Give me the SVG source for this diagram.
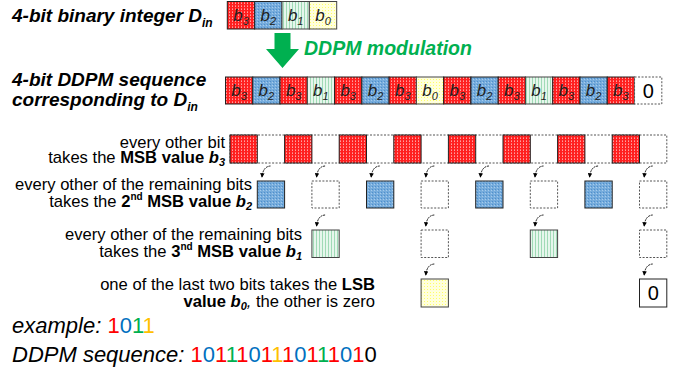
<svg xmlns="http://www.w3.org/2000/svg" width="683" height="375" viewBox="0 0 683 375">
<defs>
<pattern id="pR" width="3" height="3" patternUnits="userSpaceOnUse"><rect width="3" height="3" fill="#ff2020"/><rect x="1" y="0" width="1" height="1" fill="#ffa0a0"/><rect x="1" y="2" width="1" height="1" fill="#ff7070"/></pattern>
<pattern id="pB" width="3" height="3" patternUnits="userSpaceOnUse"><rect width="3" height="3" fill="#76acdc"/><rect x="0" y="0" width="1" height="1" fill="#4f8fcc"/><rect x="2" y="1" width="1" height="1" fill="#a6cbec"/></pattern>
<pattern id="pG" width="3" height="3" patternUnits="userSpaceOnUse"><rect width="3" height="3" fill="#e6f6ec"/><rect x="1" y="0" width="1" height="3" fill="#a0dab6"/></pattern>
<pattern id="pY" width="3" height="3" patternUnits="userSpaceOnUse"><rect width="3" height="3" fill="#ffffdc"/><rect x="1" y="1" width="1" height="1" fill="#ffff66"/></pattern>
<marker id="ah" viewBox="0 0 6 6" refX="5" refY="3" markerWidth="5" markerHeight="5" orient="auto"><path d="M0,0 L6,3 L0,6 z" fill="#000"/></marker>
<style>
.r{fill:url(#pR);stroke:#222;stroke-width:1}
.b{fill:url(#pB);stroke:#222;stroke-width:1}
.g{fill:url(#pG);stroke:#444;stroke-width:1}
.y{fill:url(#pY);stroke:#444;stroke-width:1}
.d{fill:#fff;stroke:#555;stroke-width:1;stroke-dasharray:2 1.5}
.z{fill:#fff;stroke:#222;stroke-width:1}
.ct{font-family:"Liberation Sans",Arial,sans-serif;font-style:italic;font-size:17px;fill:#222;text-anchor:middle}
.zt{font-family:"Liberation Sans",Arial,sans-serif;font-size:20px;fill:#000;text-anchor:middle}
.hd{font-family:"Liberation Sans",Arial,sans-serif;font-style:italic;font-weight:bold;font-size:19px;fill:#000}
.lb{font-family:"Liberation Sans",Arial,sans-serif;font-size:16.6px;fill:#000;text-anchor:end}
.bt{font-family:"Liberation Sans",Arial,sans-serif;font-style:italic;font-size:22px;fill:#000}
.up{font-style:normal}
.arr{fill:none;stroke:#000;stroke-width:0.9;stroke-dasharray:2 0.8;marker-end:url(#ah)}
</style>
</defs>
<rect width="683" height="375" fill="#fff"/>

<g id="title-din">
<text class="hd" x="12" y="22">4-bit binary integer D<tspan font-size="12" dy="5">in</tspan></text>
</g>
<g id="din-bits">
<rect class="r" x="227.3" y="1.5" width="27.35" height="27.5"/>
<rect class="b" x="254.65" y="1.5" width="27.35" height="27.5"/>
<rect class="g" x="282" y="1.5" width="27.35" height="27.5"/>
<rect class="y" x="309.35" y="1.5" width="27.35" height="27.5"/>
<text class="ct" x="241" y="21">b<tspan font-size="11" dy="4">3</tspan></text>
<text class="ct" x="268.3" y="21">b<tspan font-size="11" dy="4">2</tspan></text>
<text class="ct" x="295.7" y="21">b<tspan font-size="11" dy="4">1</tspan></text>
<text class="ct" x="323" y="21">b<tspan font-size="11" dy="4">0</tspan></text>
</g>

<g id="ddpm-modulation">
<polygon points="274.5,33 290.5,33 290.5,49 299,49 282.5,68 266,49 274.5,49" fill="#00b050"/>
<text x="304" y="55" font-family="Liberation Sans, Arial, sans-serif" font-style="italic" font-weight="bold" font-size="19.5" fill="#00b050">DDPM modulation</text>
</g>

<g id="title-seq">
<text class="hd" x="12" y="86">4-bit DDPM sequence</text>
<text class="hd" x="12" y="106">corresponding to D<tspan font-size="12" dy="5">in</tspan></text>
</g>

<g id="ddpm-sequence">
<rect class="r" x="225.5" y="77" width="27.27" height="27"/>
<rect class="b" x="252.77" y="77" width="27.27" height="27"/>
<rect class="r" x="280.04" y="77" width="27.27" height="27"/>
<rect class="g" x="307.31" y="77" width="27.27" height="27"/>
<rect class="r" x="334.58" y="77" width="27.27" height="27"/>
<rect class="b" x="361.85" y="77" width="27.27" height="27"/>
<rect class="r" x="389.12" y="77" width="27.27" height="27"/>
<rect class="y" x="416.39" y="77" width="27.27" height="27"/>
<rect class="r" x="443.66" y="77" width="27.27" height="27"/>
<rect class="b" x="470.93" y="77" width="27.27" height="27"/>
<rect class="r" x="498.2" y="77" width="27.27" height="27"/>
<rect class="g" x="525.47" y="77" width="27.27" height="27"/>
<rect class="r" x="552.74" y="77" width="27.27" height="27"/>
<rect class="b" x="580.01" y="77" width="27.27" height="27"/>
<rect class="r" x="607.28" y="77" width="27.27" height="27"/>
<rect class="d" x="634.55" y="77" width="27.27" height="27"/>
<text class="ct" x="239.1" y="96">b<tspan font-size="11" dy="4">3</tspan></text>
<text class="ct" x="266.4" y="96">b<tspan font-size="11" dy="4">2</tspan></text>
<text class="ct" x="293.7" y="96">b<tspan font-size="11" dy="4">3</tspan></text>
<text class="ct" x="320.9" y="96">b<tspan font-size="11" dy="4">1</tspan></text>
<text class="ct" x="348.2" y="96">b<tspan font-size="11" dy="4">3</tspan></text>
<text class="ct" x="375.5" y="96">b<tspan font-size="11" dy="4">2</tspan></text>
<text class="ct" x="402.8" y="96">b<tspan font-size="11" dy="4">3</tspan></text>
<text class="ct" x="430" y="96">b<tspan font-size="11" dy="4">0</tspan></text>
<text class="ct" x="457.3" y="96">b<tspan font-size="11" dy="4">3</tspan></text>
<text class="ct" x="484.6" y="96">b<tspan font-size="11" dy="4">2</tspan></text>
<text class="ct" x="511.8" y="96">b<tspan font-size="11" dy="4">3</tspan></text>
<text class="ct" x="539.1" y="96">b<tspan font-size="11" dy="4">1</tspan></text>
<text class="ct" x="566.4" y="96">b<tspan font-size="11" dy="4">3</tspan></text>
<text class="ct" x="593.6" y="96">b<tspan font-size="11" dy="4">2</tspan></text>
<text class="ct" x="620.9" y="96">b<tspan font-size="11" dy="4">3</tspan></text>
<text class="zt" x="648.2" y="98">0</text>
</g>

<g id="row-msb">
<text class="lb" x="225" y="148">every other bit</text>
<text class="lb" x="225" y="163">takes the <tspan font-weight="bold">MSB value </tspan><tspan font-weight="bold" font-style="italic">b</tspan><tspan font-weight="bold" font-style="italic" font-size="11" dy="3">3</tspan></text>
<rect class="d" x="230" y="135" width="436.8" height="28"/>
<rect class="r" x="230" y="135" width="27.3" height="28"/>
<rect class="r" x="284.6" y="135" width="27.3" height="28"/>
<rect class="r" x="339.2" y="135" width="27.3" height="28"/>
<rect class="r" x="393.8" y="135" width="27.3" height="28"/>
<rect class="r" x="448.4" y="135" width="27.3" height="28"/>
<rect class="r" x="503" y="135" width="27.3" height="28"/>
<rect class="r" x="557.6" y="135" width="27.3" height="28"/>
<rect class="r" x="612.2" y="135" width="27.3" height="28"/>
</g>

<g id="row-2nd-msb">
<text class="lb" x="252" y="190">every other of the remaining bits</text>
<text class="lb" x="252" y="207">takes the <tspan font-weight="bold">2</tspan><tspan font-weight="bold" font-size="10" dy="-7">nd</tspan><tspan font-weight="bold" dy="7"> MSB value </tspan><tspan font-weight="bold" font-style="italic">b</tspan><tspan font-weight="bold" font-style="italic" font-size="11" dy="3">2</tspan></text>
<rect class="b" x="257.3" y="181" width="27.3" height="27"/>
<rect class="d" x="311.9" y="181" width="27.3" height="27"/>
<rect class="b" x="366.5" y="181" width="27.3" height="27"/>
<rect class="d" x="421.1" y="181" width="27.3" height="27"/>
<rect class="b" x="475.7" y="181" width="27.3" height="27"/>
<rect class="d" x="530.3" y="181" width="27.3" height="27"/>
<rect class="b" x="584.9" y="181" width="27.3" height="27"/>
<rect class="d" x="639.5" y="181" width="27.3" height="27"/>
</g>

<g id="row-3rd-msb">
<text class="lb" x="302" y="240">every other of the remaining bits</text>
<text class="lb" x="302" y="257">takes the <tspan font-weight="bold">3</tspan><tspan font-weight="bold" font-size="10" dy="-7">nd</tspan><tspan font-weight="bold" dy="7"> MSB value </tspan><tspan font-weight="bold" font-style="italic">b</tspan><tspan font-weight="bold" font-style="italic" font-size="11" dy="3">1</tspan></text>
<rect class="g" x="311.9" y="230" width="27.3" height="27.5"/>
<rect class="d" x="421.1" y="230" width="27.3" height="27.5"/>
<rect class="g" x="530.3" y="230" width="27.3" height="27.5"/>
<rect class="d" x="639.5" y="230" width="27.3" height="27.5"/>
</g>

<g id="row-lsb">
<text class="lb" x="375" y="290">one of the last two bits takes the <tspan font-weight="bold">LSB</tspan></text>
<text class="lb" x="375" y="307"><tspan font-weight="bold">value </tspan><tspan font-weight="bold" font-style="italic">b</tspan><tspan font-weight="bold" font-style="italic" font-size="11" dy="3">0</tspan><tspan font-style="italic" dy="-3">,</tspan> the other is zero</text>
<rect class="y" x="421.1" y="279" width="27.3" height="28"/>
<rect class="z" x="639.5" y="279" width="27.3" height="28"/>
<text class="zt" x="653.2" y="300">0</text>
</g>

<g id="connectors">
<path class="arr" d="M270.5,166 Q263,166.5 262,177"/>
<path class="arr" d="M325.1,166 Q317.6,166.5 316.6,177"/>
<path class="arr" d="M379.7,166 Q372.2,166.5 371.2,177"/>
<path class="arr" d="M434.3,166 Q426.8,166.5 425.8,177"/>
<path class="arr" d="M488.9,166 Q481.4,166.5 480.4,177"/>
<path class="arr" d="M543.5,166 Q536,166.5 535,177"/>
<path class="arr" d="M598.1,166 Q590.6,166.5 589.6,177"/>
<path class="arr" d="M652.7,166 Q645.2,166.5 644.2,177"/>
<path class="arr" d="M325.1,215 Q317.6,215.5 316.6,226"/>
<path class="arr" d="M434.3,215 Q426.8,215.5 425.8,226"/>
<path class="arr" d="M543.5,215 Q536,215.5 535,226"/>
<path class="arr" d="M652.7,215 Q645.2,215.5 644.2,226"/>
<path class="arr" d="M434.3,264 Q426.8,264.5 425.8,275"/>
<path class="arr" d="M652.7,264 Q645.2,264.5 644.2,275"/>
</g>

<g id="example">
<text class="bt" x="12" y="333">example: <tspan class="up" fill="#ff0000">1</tspan><tspan class="up" fill="#0070c0">0</tspan><tspan class="up" fill="#00b050">1</tspan><tspan class="up" fill="#ffc000">1</tspan></text>
<text class="bt" x="12" y="362">DDPM sequence: <tspan class="up" fill="#ff0000">1</tspan><tspan class="up" fill="#0070c0">0</tspan><tspan class="up" fill="#ff0000">1</tspan><tspan class="up" fill="#00b050">1</tspan><tspan class="up" fill="#ff0000">1</tspan><tspan class="up" fill="#0070c0">0</tspan><tspan class="up" fill="#ff0000">1</tspan><tspan class="up" fill="#ffc000">1</tspan><tspan class="up" fill="#ff0000">1</tspan><tspan class="up" fill="#0070c0">0</tspan><tspan class="up" fill="#ff0000">1</tspan><tspan class="up" fill="#00b050">1</tspan><tspan class="up" fill="#ff0000">1</tspan><tspan class="up" fill="#0070c0">0</tspan><tspan class="up" fill="#ff0000">1</tspan><tspan class="up" fill="#000">0</tspan></text>
</g>
</svg>
